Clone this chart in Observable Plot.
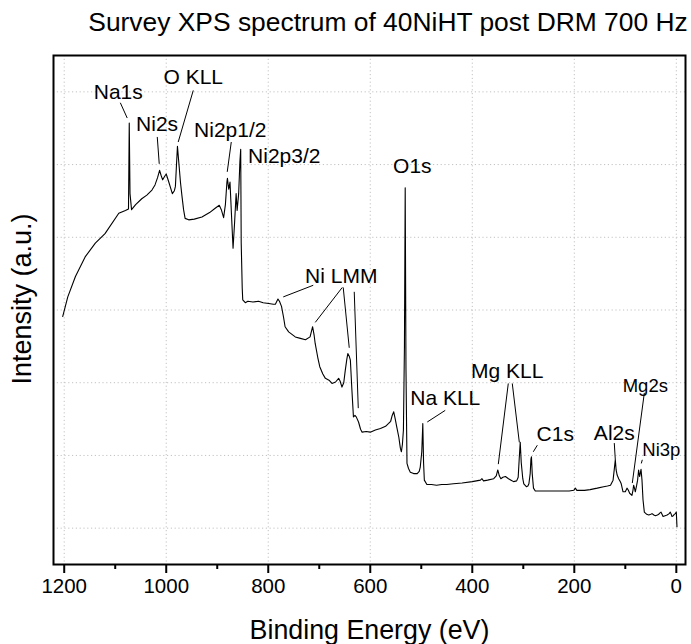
<!DOCTYPE html>
<html><head><meta charset="utf-8">
<script src="https://cdn.jsdelivr.net/npm/d3@7"></script>
<script src="https://cdn.jsdelivr.net/npm/@observablehq/plot@0.6"></script>
<style>
body{margin:0;background:#fff;font-family:"Liberation Sans",Arial,sans-serif;}
#title{height:45px;width:691px;box-sizing:border-box;padding-left:85px;padding-top:8px;text-align:center;font-size:26.4px;line-height:28px;color:#000;white-space:nowrap}
</style></head><body>
<div id="title">Survey XPS spectrum of 40NiHT post DRM 700 Hz</div>
<div id="chart"></div>
<script>
// Binding energy (eV) and intensity (a.u.)
const bindingEnergy = [1203,1193,1178,1159,1139,1120,1093,1080,1074,1072.5,1071,1068,1060,1048,1038,1028,1022,1017,1013,1010,1007,1003,1000,995,988,984,982,980,978,975,972,969,966,963,956,945,930,915,904,896,892,887.5,884,881,880,877.5,875,872,869,866,863,861,858,855.5,854,853,851,850,845,840,830,819,810,799,790,786,781,778,774,770,767,760,747,737,727,718,713,710,708,703,699,693,688,680,675,668,662,659,655.5,652,649,646,644,641,639,636,633,630,627.5,623,619,616,608,600,590,580,570,564,560,557,554,551,548,544,541,539,537,535,533,531.5,530,528,525,521.5,515,508,504,502,499,497,495.5,494,489,480,470,460,450,437,420,400,384,381,378,370,358,353,350,347,344,340,335,329,324,319,313,310,308,306,304,301,299,294,291,289,286.5,285,284,282.5,280,276.5,265,250,240,225,210,201,198,195,180,169,155,142.5,135,129,124,121,119.6,118,116,113,110,108,104.5,100,96.7,94,91.5,87,85,83.7,82,80.4,78,75.9,73.9,72,70.5,69.2,67.3,65.3,62.7,58,54,50,47.6,44,41,37,34.6,32,30,28,26,22,18,14,11.8,10,8.5,6,4,2,0,-1.3];
const intensity = [2.91,3.18,3.46,3.73,3.92,4.05,4.33,4.37,4.39,5.57,4.6,4.38,4.45,4.53,4.58,4.65,4.72,4.82,4.92,4.85,4.79,4.84,4.87,4.76,4.60,4.64,4.70,4.98,5.25,5.0,4.75,4.56,4.38,4.26,4.24,4.25,4.28,4.34,4.40,4.44,4.38,4.27,4.45,4.76,4.81,4.66,4.76,4.3,3.85,4.2,4.60,4.37,4.6,5.05,5.21,3.92,3.3,3.14,3.10,3.12,3.11,3.12,3.10,3.09,3.08,3.08,3.15,3.12,3.05,2.9,2.77,2.70,2.63,2.61,2.59,2.63,2.77,2.65,2.54,2.35,2.22,2.12,2.06,2.03,1.99,2.01,2.06,2.02,1.94,2.0,2.17,2.32,2.40,2.36,2.31,1.90,1.53,1.55,1.53,1.46,1.36,1.32,1.33,1.32,1.35,1.37,1.40,1.44,1.47,1.55,1.60,1.50,1.39,1.25,1.10,1.05,1.15,1.35,2.5,4.68,2.2,0.89,0.82,0.77,0.75,0.75,0.78,0.84,1.05,1.44,0.9,0.66,0.60,0.60,0.59,0.60,0.60,0.61,0.62,0.64,0.66,0.68,0.65,0.66,0.68,0.72,0.80,0.72,0.68,0.70,0.71,0.68,0.66,0.64,0.65,0.70,0.95,1.18,0.9,0.68,0.61,0.57,0.58,0.61,0.75,0.95,0.98,0.75,0.55,0.51,0.51,0.51,0.51,0.51,0.51,0.52,0.55,0.52,0.52,0.53,0.55,0.57,0.58,0.59,0.66,0.85,0.94,0.80,0.73,0.68,0.64,0.61,0.50,0.50,0.55,0.52,0.48,0.45,0.52,0.59,0.55,0.50,0.58,0.66,0.80,0.71,0.76,0.81,0.66,0.39,0.22,0.19,0.18,0.19,0.20,0.18,0.17,0.18,0.19,0.21,0.22,0.19,0.16,0.17,0.18,0.2,0.22,0.19,0.16,0.17,0.19,0.2,0.22,0.02];

// Peak labels (anchored in data coordinates)
const labelText = ["Na1s","Ni2s","O KLL","Ni2p1/2","Ni2p3/2","O1s","Ni LMM","Na KLL","Mg KLL","C1s","Al2s","Mg2s","Ni3p"];
const labelX = [1094,1018,947,874.5,768.6,517.6,656.9,453,331.4,237.3,121.6,60.8,29.4];
const labelY = [6.00,5.55,6.20,5.47,5.11,4.97,3.46,1.78,2.16,1.29,1.30,1.95,1.07];
const smallLabels = ["Mg2s","Ni3p"];

// Leader lines from labels to peaks
const leaderX1 = [1090,1017.6,947,872.5,711.8,654.9,653,631.4,453,329.4,321.6,272.5,121.6,62.7,66.7];
const leaderY1 = [5.85,5.38,6.02,5.31,3.34,3.31,3.31,3.25,1.62,1.99,1.99,1.14,1.17,1.86,0.94];
const leaderX2 = [1076.5,1013.7,976.5,880.4,770.6,707.8,641.2,623.5,488.2,349,307.8,280.4,119.6,86.3,68.6];
const leaderY2 = [5.64,5.01,5.31,4.90,3.18,2.83,2.48,1.65,1.46,0.88,1.18,1.05,0.94,0.62,0.89];

const majorTicks = [1200,1000,800,600,400,200,0];
const minorTicks = [1100,900,700,500,300,100];
const yGrid = [0,1,2,3,4,5,6];

const spectrum = bindingEnergy.map((e,i)=>({e, v: intensity[i]}));
const labels = labelText.map((t,i)=>({t, x: labelX[i], y: labelY[i]}));
const leaders = leaderX1.map((x1,i)=>({x1, y1: leaderY1[i], x2: leaderX2[i], y2: leaderY2[i]}));

const gridStyle = {stroke:"#c2c2c2", strokeOpacity:1, strokeWidth:1, strokeDasharray:"1.2,2.6"};

const chart = Plot.plot({
  width: 691, height: 599,
  marginTop: 10, marginBottom: 80, marginLeft: 53, marginRight: 6,
  style: {fontFamily: "'Liberation Sans', Arial, sans-serif", fontSize: "20.5px", color: "black", background: "white"},
  x: {domain: [1221, -18]},
  y: {domain: [-0.5, 6.5], axis: null},
  marks: [
    Plot.gridX(majorTicks, gridStyle),
    Plot.gridY(yGrid, gridStyle),
    Plot.line(spectrum, {x: "e", y: "v", stroke: "black", strokeWidth: 1.1}),
    Plot.link(leaders, {x1: "x1", y1: "y1", x2: "x2", y2: "y2", stroke: "black", strokeWidth: 1}),
    Plot.text(labels.filter(d => !smallLabels.includes(d.t)), {x: "x", y: "y", text: "t", fontSize: 21, fill: "black"}),
    Plot.text(labels.filter(d => smallLabels.includes(d.t)), {x: "x", y: "y", text: "t", fontSize: 18.5, fill: "black"}),
    Plot.axisX(minorTicks, {tickSize: 5, strokeWidth: 2, tickFormat: () => "", label: null}),
    Plot.axisX(majorTicks, {tickSize: 9, tickPadding: 5, strokeWidth: 2, tickFormat: d => String(d), fontSize: 20.5, label: null}),
    Plot.frame({stroke: "black", strokeWidth: 2}),
    Plot.text(["Binding Energy (eV)"], {frameAnchor: "bottom", textAnchor: "middle", lineAnchor: "middle", dy: 66, fontSize: 26.8, fill: "black"}),
    Plot.text(["Intensity (a.u.)"], {frameAnchor: "left", textAnchor: "middle", lineAnchor: "middle", rotate: -90, dx: -31, dy: -11, fontSize: 27, fill: "black"})
  ]
});
document.getElementById("chart").appendChild(chart);
</script></body></html>
